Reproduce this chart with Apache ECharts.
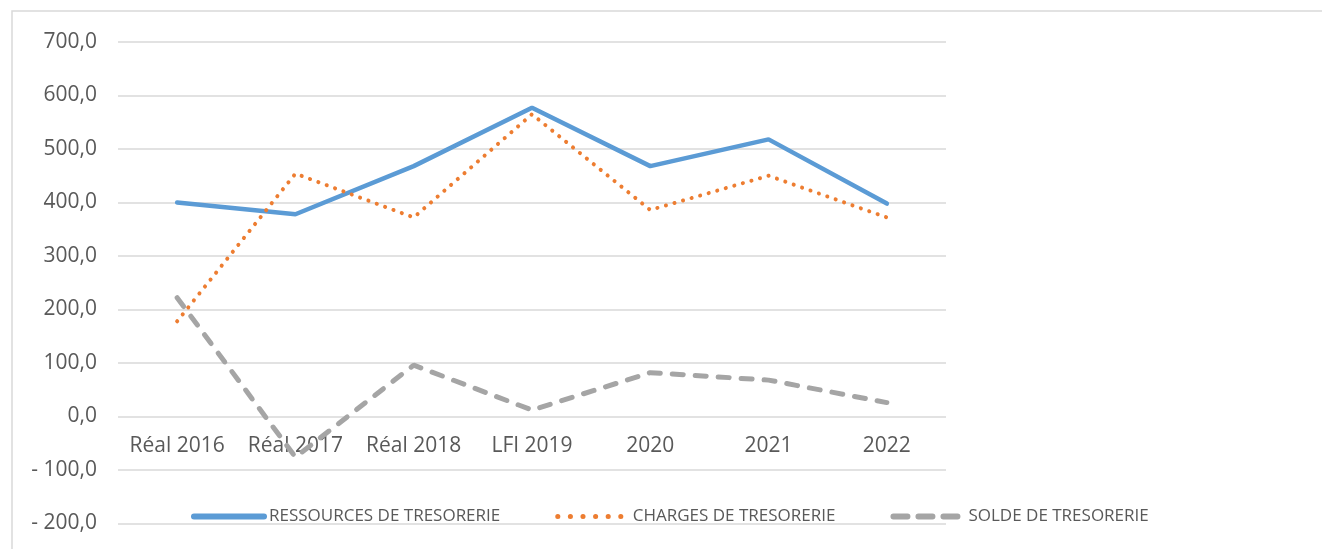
<!DOCTYPE html>
<html>
<head>
<meta charset="utf-8">
<script src="https://cdn.jsdelivr.net/npm/echarts@6/dist/echarts.min.js"></script>
<style>
  html, body { margin: 0; padding: 0; background: #fff; }
  #chart { width: 1322px; height: 549px; }
</style>
</head>
<body>
<div id="chart"></div>
<script>
// catégories et séries
const categories = ['Réal 2016', 'Réal 2017', 'Réal 2018', 'LFI 2019', '2020', '2021', '2022']
const ressources = [400, 378, 468, 577, 468, 518, 398]
const charges = [178, 454, 372, 565, 386, 450, 372]
const solde = [222, -76, 96, 12, 82, 68, 26]

const myChart = echarts.init(document.getElementById('chart'))

// format Excel : "- 100,0"
function fmt(v) {
  const s = Math.abs(v).toFixed(1).replace('.', ',')
  return v < 0 ? '- ' + s : s
}

const blue = { color: '#5b9bd5', width: 4.5, cap: 'round' }
const orange = { color: '#ed7d31', width: 4, type: [0.1, 8.8], cap: 'round' }
const grey = { color: '#a5a5a5', width: 5, type: [11, 12], cap: 'round' }

const option = {
  animation: false,
  textStyle: { fontFamily: 'Open Sans, sans-serif' },
  graphic: [
    {
      type: 'rect',
      shape: { x: 12, y: 11, width: 1330, height: 560 },
      style: { fill: 'none', stroke: '#d9d9d9', lineWidth: 1.5 },
      silent: true,
    },
  ],
  grid: { left: 118, right: 376, top: 42, bottom: 25.5, outerBoundsMode: 'none' },
  legend: {
    left: 186,
    top: 503,
    itemWidth: 70,
    itemHeight: 14,
    itemGap: 55,
    itemStyle: { opacity: 0 },
    textStyle: { fontSize: 17, color: '#595959' },
    data: [
      { name: 'RESSOURCES DE TRESORERIE', lineStyle: { ...blue, width: 6 } },
      { name: 'CHARGES DE TRESORERIE', lineStyle: { ...orange, width: 5, type: [0.1, 12.5] } },
      { name: 'SOLDE DE TRESORERIE', lineStyle: { ...grey, width: 6, type: [14, 11] } },
    ],
  },
  xAxis: {
    type: 'category',
    data: categories,
    // l'axe des catégories est placé sur la ligne du zéro
    offset: -107,
    axisLine: { show: false, onZero: false },
    axisTick: { show: false },
    axisLabel: { color: '#595959', fontSize: 21, margin: 19, interval: 0 },
  },
  yAxis: {
    type: 'value',
    min: -200,
    max: 700,
    interval: 100,
    axisLine: { show: false },
    axisTick: { show: false },
    axisLabel: { color: '#595959', fontSize: 21, margin: 21, formatter: fmt },
    splitLine: { lineStyle: { color: '#d9d9d9', width: 1.5 } },
  },
  series: [
    {
      name: 'RESSOURCES DE TRESORERIE',
      type: 'line',
      data: ressources,
      symbol: 'none',
      lineStyle: blue,
      itemStyle: { color: '#5b9bd5' },
      z: 3,
    },
    {
      name: 'CHARGES DE TRESORERIE',
      type: 'line',
      data: charges,
      symbol: 'none',
      lineStyle: orange,
      itemStyle: { color: '#ed7d31' },
      z: 4,
    },
    {
      name: 'SOLDE DE TRESORERIE',
      type: 'line',
      data: solde,
      symbol: 'none',
      lineStyle: grey,
      itemStyle: { color: '#a5a5a5' },
      z: 2,
    },
  ],
}

myChart.setOption(option)
</script>
</body>
</html>
